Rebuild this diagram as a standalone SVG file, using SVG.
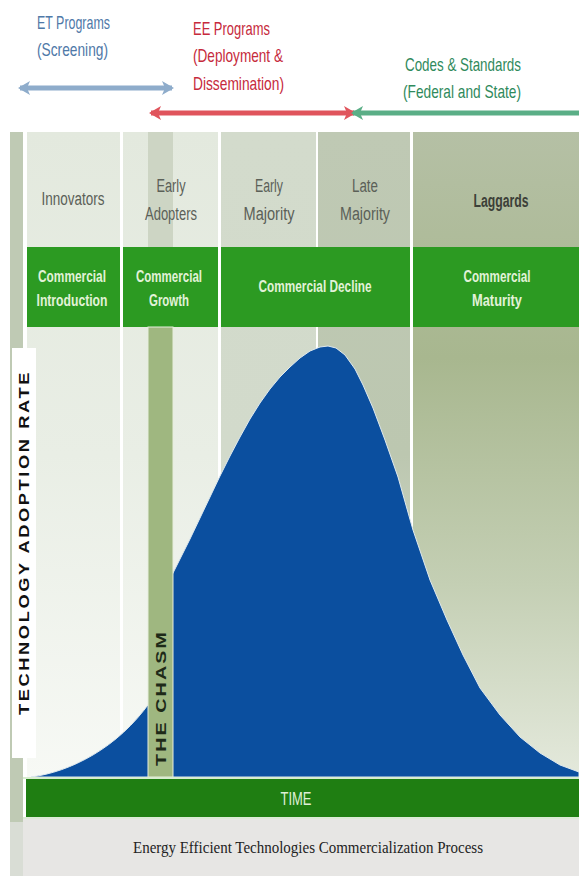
<svg xmlns="http://www.w3.org/2000/svg" width="579" height="876" viewBox="0 0 579 876">
<defs>
<style>
.cond{font-family:"Liberation Sans","DejaVu Sans",Arial,sans-serif;}
.hdr{font-size:18px;fill:#5b6058;text-anchor:middle;}
.band{font-size:17px;fill:#e2f2d8;font-weight:bold;text-anchor:middle;}
.prog{font-size:19px;}
</style>
<linearGradient id="gInno" x1="0" y1="0" x2="0" y2="1">
<stop offset="0" stop-color="#e3e9de"/><stop offset="0.5" stop-color="#e9eee5"/><stop offset="1" stop-color="#f7f9f5"/>
</linearGradient>
<linearGradient id="gEM" x1="0" y1="0" x2="0" y2="1">
<stop offset="0" stop-color="#d3dbcc"/><stop offset="0.5" stop-color="#d2dacb"/><stop offset="1" stop-color="#eef1ea"/>
</linearGradient>
<linearGradient id="gLM" x1="0" y1="0" x2="0" y2="1">
<stop offset="0" stop-color="#bfc9b4"/><stop offset="0.5" stop-color="#bcc7b0"/><stop offset="1" stop-color="#e5e9df"/>
</linearGradient>
<linearGradient id="gLag" x1="0" y1="0" x2="0" y2="1">
<stop offset="0" stop-color="#b5c0a5"/><stop offset="0.35" stop-color="#a8b78f"/><stop offset="0.7" stop-color="#c4cfb4"/><stop offset="1" stop-color="#e4e9dc"/>
</linearGradient>
<marker id="hBlue" viewBox="0 0 12 14" refX="10" refY="7" markerWidth="12" markerHeight="14" markerUnits="userSpaceOnUse" orient="auto-start-reverse">
<path d="M0,0 L12,7 L0,14 L3,7 Z" fill="#8eaccb"/>
</marker>
<marker id="hRed" viewBox="0 0 12 14" refX="10" refY="7" markerWidth="12" markerHeight="14" markerUnits="userSpaceOnUse" orient="auto-start-reverse">
<path d="M0,0 L12,7 L0,14 L3,7 Z" fill="#e0545c"/>
</marker>
<marker id="hGreen" viewBox="0 0 12 14" refX="10" refY="7" markerWidth="12" markerHeight="14" markerUnits="userSpaceOnUse" orient="auto-start-reverse">
<path d="M0,0 L12,7 L0,14 L3,7 Z" fill="#5aae86"/>
</marker>
</defs>

<rect x="0" y="0" width="579" height="876" fill="#ffffff"/>

<!-- program labels -->
<g id="et-programs" class="cond prog" fill="#4f79a8">
<text x="37" y="29" textLength="73" lengthAdjust="spacingAndGlyphs">ET Programs</text>
<text x="37" y="56" textLength="71" lengthAdjust="spacingAndGlyphs">(Screening)</text>
</g>
<g id="ee-programs" class="cond prog" fill="#c62a3c">
<text x="193" y="35" textLength="77" lengthAdjust="spacingAndGlyphs">EE Programs</text>
<text x="193" y="62" textLength="90" lengthAdjust="spacingAndGlyphs">(Deployment &amp;</text>
<text x="193" y="90" textLength="91" lengthAdjust="spacingAndGlyphs">Dissemination)</text>
</g>
<g id="codes-standards" class="cond prog" fill="#2f8a5c">
<text x="405" y="71" textLength="116" lengthAdjust="spacingAndGlyphs">Codes &amp; Standards</text>
<text x="403" y="98" textLength="118" lengthAdjust="spacingAndGlyphs">(Federal and State)</text>
</g>

<!-- left strip -->
<rect x="10" y="132" width="13" height="690" fill="#bfcab4"/>
<rect x="10" y="822" width="13" height="54" fill="#d9ddd5"/>

<!-- columns -->
<g id="innovators">
<rect x="27" y="132" width="93" height="646" fill="url(#gInno)"/>
<text class="cond hdr" x="73" y="205" textLength="63" lengthAdjust="spacingAndGlyphs">Innovators</text>
</g>
<g id="early-adopters">
<rect x="123" y="132" width="95" height="646" fill="url(#gInno)"/>
<rect x="148" y="132" width="25" height="116" fill="#cdd5c4"/>
<text class="cond hdr" x="171" y="192" textLength="29" lengthAdjust="spacingAndGlyphs">Early</text>
<text class="cond hdr" x="171" y="220" textLength="52" lengthAdjust="spacingAndGlyphs">Adopters</text>
</g>
<g id="early-majority">
<rect x="221" y="132" width="95" height="646" fill="url(#gEM)"/>
<text class="cond hdr" x="269" y="192" textLength="28" lengthAdjust="spacingAndGlyphs">Early</text>
<text class="cond hdr" x="269" y="220" textLength="51" lengthAdjust="spacingAndGlyphs">Majority</text>
</g>
<g id="late-majority">
<rect x="318" y="132" width="92" height="646" fill="url(#gLM)"/>
<text class="cond hdr" x="365" y="192" textLength="26" lengthAdjust="spacingAndGlyphs">Late</text>
<text class="cond hdr" x="365" y="220" textLength="50" lengthAdjust="spacingAndGlyphs">Majority</text>
</g>
<g id="laggards">
<rect x="413" y="132" width="166" height="646" fill="url(#gLag)"/>
<text class="cond hdr" x="501" y="207" textLength="55" lengthAdjust="spacingAndGlyphs" style="fill:#3c4038;font-weight:bold">Laggards</text>
</g>

<!-- commercial stages band -->
<g id="stage-introduction">
<rect x="27" y="247" width="93" height="80" fill="#2c9a22"/>
<text class="cond band" x="72" y="282" textLength="68" lengthAdjust="spacingAndGlyphs">Commercial</text>
<text class="cond band" x="72" y="306" textLength="71" lengthAdjust="spacingAndGlyphs">Introduction</text>
</g>
<g id="stage-growth">
<rect x="123" y="247" width="95" height="80" fill="#2c9a22"/>
<text class="cond band" x="169" y="282" textLength="66" lengthAdjust="spacingAndGlyphs">Commercial</text>
<text class="cond band" x="169" y="306" textLength="40" lengthAdjust="spacingAndGlyphs">Growth</text>
</g>
<g id="stage-decline">
<rect x="221" y="247" width="189" height="80" fill="#2c9a22"/>
<text class="cond band" x="315" y="292" textLength="113" lengthAdjust="spacingAndGlyphs">Commercial Decline</text>
</g>
<g id="stage-maturity">
<rect x="413" y="247" width="166" height="80" fill="#2c9a22"/>
<text class="cond band" x="497" y="282" textLength="67" lengthAdjust="spacingAndGlyphs">Commercial</text>
<text class="cond band" x="497" y="306" textLength="50" lengthAdjust="spacingAndGlyphs">Maturity</text>
</g>

<!-- adoption curve -->
<g id="adoption-curve">
<path fill="#0b4f9f" stroke="#dfe9ee" stroke-width="1" d="M31,777 C70,772 118,748 150,702 L150,590 L172,575 L180,559 L190,539 L200,518 L210,497 L220,476 L230,456 L240,437 L250,419 L260,403 L270,389 L280,377 L290,367 L300,358 L310,351 L320,347 L328,346 L336,348 L345,355 L355,369 L363,385 L373,408 L385,440 L398,477 L413,530 L430,580 L447,620 L463,655 L480,688 L500,715 L520,737 L540,753 L560,765 L579,772 L579,777 Z"/>
</g>

<!-- chasm -->
<g id="the-chasm">
<rect x="148" y="327" width="25" height="450" fill="#9fb780" stroke="#e6eddc" stroke-width="1"/>
<text class="cond" x="0" y="0" transform="translate(166,766) rotate(-90)" font-size="14" font-weight="bold" fill="#1e2a18" letter-spacing="1.5" textLength="136" lengthAdjust="spacingAndGlyphs">THE CHASM</text>
</g>

<!-- y axis label -->
<g id="y-axis">
<rect x="12" y="348" width="24" height="410" fill="#ffffff"/>
<text class="cond" x="0" y="0" transform="translate(29,715) rotate(-90)" font-size="14" font-weight="bold" fill="#111111" letter-spacing="2" textLength="345" lengthAdjust="spacingAndGlyphs">TECHNOLOGY ADOPTION RATE</text>
</g>

<!-- time axis -->
<g id="time-axis">
<rect x="23" y="777" width="556" height="2" fill="#d8ecd0"/>
<rect x="26" y="779" width="553" height="38" fill="#1f7e12"/>
<text class="cond" x="296" y="805" font-size="18" fill="#dff0d6" text-anchor="middle" textLength="31" lengthAdjust="spacingAndGlyphs">TIME</text>
</g>

<!-- caption -->
<g id="caption">
<rect x="23" y="817" width="556" height="2" fill="#dcebd6"/>
<rect x="23" y="819" width="556" height="57" fill="#e7e6e4"/>
<text x="308" y="853" font-family="Liberation Serif,'Times New Roman',serif" font-size="16" fill="#222222" text-anchor="middle" textLength="350" lengthAdjust="spacingAndGlyphs">Energy Efficient Technologies Commercialization Process</text>
</g>

<!-- connectors -->
<g id="connectors" fill="none" stroke-width="5">
<line x1="20" y1="88" x2="172" y2="88" stroke="#8eaccb" marker-start="url(#hBlue)" marker-end="url(#hBlue)"/>
<line x1="151" y1="113" x2="354" y2="113" stroke="#e0545c" marker-start="url(#hRed)" marker-end="url(#hRed)"/>
<line x1="353" y1="113" x2="579" y2="113" stroke="#5aae86" marker-start="url(#hGreen)"/>
</g>
</svg>
